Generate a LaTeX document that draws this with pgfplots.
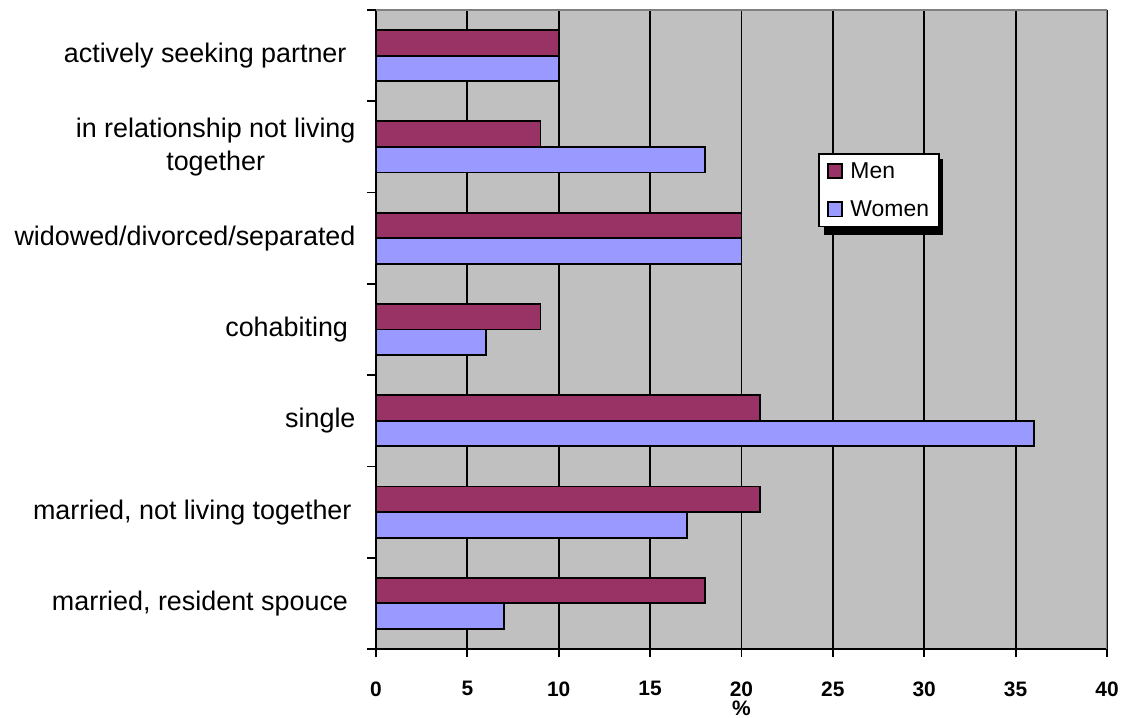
\documentclass[border=0pt]{standalone}
\usepackage{pgfplots}
\pgfplotsset{compat=1.18}
\usepackage{fontspec}
\setmainfont{Liberation Sans}
\definecolor{men}{HTML}{993366}
\definecolor{women}{HTML}{9999FF}
\definecolor{plotbg}{HTML}{C0C0C0}
\definecolor{framegray}{HTML}{808080}

\begin{document}
\begin{tikzpicture}
\begin{axis}[
    at={(0,0)}, anchor=south west,
    scale only axis, width=731bp, height=639bp,
    xbar, bar width=0.28,
    xmin=0, xmax=40, ymin=-0.5, ymax=6.5,
    axis x line*=bottom, axis y line*=left,
    axis line style={black, line width=1.8bp, -},
    axis background/.style={fill=plotbg},
    xtick={0,5,...,40},
    ytick={0,...,6},
    minor ytick={-0.5,0.5,...,6.5},
    yticklabels={{married, resident spouce\kern7.5bp}, {married, not living together\kern4bp}, single, cohabiting\kern7.5bp, widowed/divorced/separated, {in relationship not living\\together}, actively seeking partner\kern9bp},
    tick align=outside,
    major tick length=8bp, minor tick length=9bp,
    tick style={black, line width=1.8bp},
    major y tick style={draw=none},
    xmajorgrids,
    grid style={black, line width=1.8bp},
    /pgf/number format/assume math mode=true,
    xticklabel style={font=\bfseries\fontsize{21}{25}\selectfont, yshift=-21bp},
    yticklabel style={font=\fontsize{27}{33}\selectfont, align=center, xshift=-9bp},
    xlabel={\%},
    xlabel style={at={(rel axis cs:0.5,0)}, anchor=center, yshift=-59bp, font=\bfseries\fontsize{21}{25}\selectfont},
    legend style={at={(0.605,0.776)}, anchor=north west, draw=black, line width=1.5bp, fill=white,
        font=\fontsize{23}{27}\selectfont, legend cell align=left,
        inner xsep=8bp, inner ysep=6.5bp, row sep=17bp,
        /tikz/every odd column/.append style={column sep=6bp}},
    legend image code/.code={\draw[#1, line width=1.5bp] (0bp,-7bp) rectangle (14bp,7bp);},
]
\addplot[fill=men, draw=black, line width=1.8bp, bar shift=0.14]
coordinates {(18,0) (21,1) (21,2) (9,3) (20,4) (9,5) (10,6)};
\addlegendentry{Men}
\addplot[fill=women, draw=black, line width=1.8bp, bar shift=-0.14]
coordinates {(7,0) (17,1) (36,2) (6,3) (20,4) (18,5) (10,6)};
\addlegendentry{Women}
\draw[framegray, line width=2bp] (rel axis cs:0,1) -- (rel axis cs:1,1) -- (rel axis cs:1,0);
% legend shadow
\fill[black] (rel axis cs:0.613,0.767) rectangle (rel axis cs:0.776,0.648);
\end{axis}
\pgfresetboundingbox
\path (-376bp,-69bp) rectangle (759bp,649bp);
\end{tikzpicture}
\end{document}
